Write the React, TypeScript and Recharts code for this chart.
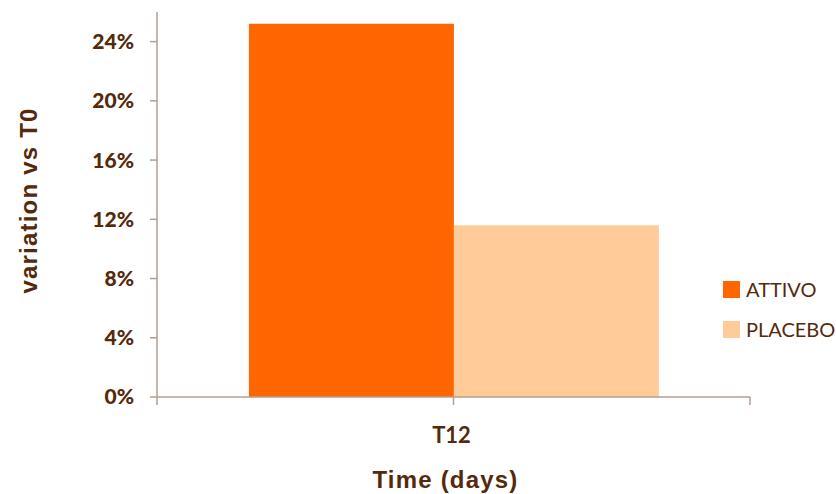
import { BarChart, Bar, XAxis, YAxis, Label } from "recharts";

const categories = ["T12"];
const attivo = [25.2];
const placebo = [11.6];
const yTicks = [0, 4, 8, 12, 16, 20, 24];
const seriesNames = ["ATTIVO", "PLACEBO"];
const seriesColors = ["#ff6600", "#ffcc99"];

const data = categories.map((name, i) => ({
  name,
  ATTIVO: attivo[i],
  PLACEBO: placebo[i],
}));

const textColor = "#552a0c";
const axisColor = "#b89c8e";

function XTick(props: any) {
  const { x, y, width, payload } = props;
  const half = typeof width === "number" ? width / 2 : 0;
  return (
    <g>
      <line x1={x} x2={x} y1={y - 8} y2={y} stroke={axisColor} strokeWidth={1.5} />
      {half > 0 && (
        <>
          <line x1={x - half} x2={x - half} y1={y - 8} y2={y} stroke={axisColor} strokeWidth={1.5} />
          <line x1={x + half} x2={x + half} y1={y - 8} y2={y} stroke={axisColor} strokeWidth={1.5} />
        </>
      )}
      <text
        x={x - 2}
        y={y + 38}
        textAnchor="middle"
        fill={textColor}
        fontFamily="Lato"
        fontWeight="bold"
        fontSize={22}
      >
        {payload.value}
      </text>
    </g>
  );
}

export default function App() {
  return (
    <div style={{ position: "absolute", left: 0, top: 0, width: 836, height: 494, background: "#fff" }}>
      <BarChart
        width={836}
        height={494}
        data={data}
        margin={{ top: 12, right: 86, bottom: 0, left: 0 }}
        barCategoryGap="15.5%"
        barGap={0}
      >
        <XAxis
          dataKey="name"
          height={97}
          stroke={axisColor}
          strokeWidth={1.5}
          tickLine={false}
          tickSize={8}
          tickMargin={0}
          tick={<XTick />}
        >
          <Label
            content={(p: any) => {
              const vb = p.viewBox;
              return (
                <text
                  x={vb.x + vb.width / 2 - 8}
                  y={488}
                  textAnchor="middle"
                  fill={textColor}
                  fontFamily="'Liberation Sans', Arial, sans-serif"
                  fontWeight="bold"
                  fontSize={24}
                  letterSpacing={1.2}
                >
                  Time (days)
                </text>
              );
            }}
          />
        </XAxis>
        <YAxis
          width={157}
          domain={[0, 26]}
          ticks={yTicks}
          interval={0}
          tickFormatter={(v: number) => `${v}%`}
          stroke={axisColor}
          strokeWidth={1.5}
          tickSize={7}
          tickMargin={16}
          tick={{ fill: textColor, fontFamily: "Lato", fontWeight: 900, fontSize: 21 }}
        >
          <Label
            content={(p: any) => {
              const vb = p.viewBox;
              const cx = 28;
              const cy = vb.y + vb.height / 2 - 4;
              return (
                <text
                  x={cx}
                  y={cy}
                  transform={`rotate(-90, ${cx}, ${cy})`}
                  textAnchor="middle"
                  dominantBaseline="central"
                  fill={textColor}
                  fontFamily="'Liberation Sans', Arial, sans-serif"
                  fontWeight="bold"
                  fontSize={24}
                  letterSpacing={1.2}
                >
                  variation vs T0
                </text>
              );
            }}
          />
        </YAxis>
        {seriesNames.map((s, i) => (
          <Bar key={s} dataKey={s} fill={seriesColors[i]} isAnimationActive={false} />
        ))}
      </BarChart>
      <div
        style={{
          position: "absolute",
          left: 723,
          top: 279,
          fontFamily: "Lato",
          fontSize: 20,
          color: textColor,
        }}
      >
        {seriesNames.map((s, i) => (
          <div key={s} style={{ display: "flex", alignItems: "center", height: 20, marginBottom: 20 }}>
            <span style={{ width: 17, height: 17, background: seriesColors[i], display: "inline-block", marginRight: 6 }} />
            <span style={{ lineHeight: "20px" }}>{s}</span>
          </div>
        ))}
      </div>
    </div>
  );
}
